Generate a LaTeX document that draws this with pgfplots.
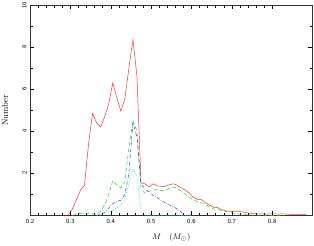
\documentclass[border=0pt]{standalone}
\usepackage{pgfplots}
\pgfplotsset{compat=1.18}
\definecolor{cred}{RGB}{255,50,50}
\definecolor{cgreen}{RGB}{30,220,30}
\definecolor{cblue}{RGB}{50,50,230}
\definecolor{ccyan}{RGB}{0,225,225}
\begin{document}
\begin{tikzpicture}
\begin{axis}[
  name=ax,
  scale only axis,
  width=282pt, height=210pt,
  xmin=0.2, xmax=0.9, ymin=0, ymax=10,
  xtick={0.2,0.3,0.4,0.5,0.6,0.7,0.8},
  xticklabels={0.2,0.3,0.4,0.5,0.6,0.7,0.8},
  minor x tick num=4,
  ytick={2,4,6,8,10},
  yticklabels={2,4,6,8,10},
  minor ytick={1,3,5,7,9},
  tick align=inside,
  xtick pos=both, ytick pos=both,
  major tick length=4pt, minor tick length=2.5pt,
  every tick/.style={black, line width=0.4pt},
  axis line style={line width=0.5pt, black!80},
  tick label style={font=\sffamily\fontsize{6.2}{7}\selectfont},
  xticklabel style={yshift=-0.5pt},
  yticklabel style={rotate=90, anchor=south},
  xlabel={$M\quad(M_{\odot})$},
  ylabel={Number},
  xlabel style={at={(axis description cs:0.5,-0.105)}, anchor=center, font=\fontsize{8}{9}\selectfont},
  ylabel style={at={(axis description cs:-0.089,0.5)}, anchor=center, rotate=0, font=\fontsize{8.5}{10}\selectfont},
]
\addplot[cred, line width=0.5pt] coordinates {
(0.295,0) (0.305,0.3) (0.315,0.75) (0.325,1.2) (0.335,1.43) (0.345,3.4) (0.355,4.85)
(0.365,4.4) (0.375,4.2) (0.385,4.7) (0.395,5.3) (0.405,6.3) (0.415,5.6) (0.425,4.95)
(0.435,5.55) (0.445,7.0) (0.455,8.37) (0.465,6.6) (0.475,1.55) (0.485,1.5) (0.495,1.35)
(0.505,1.5) (0.515,1.4) (0.525,1.38) (0.535,1.38) (0.545,1.45) (0.555,1.5) (0.565,1.43)
(0.575,1.3) (0.585,1.2) (0.595,1.05) (0.605,0.85) (0.615,0.76) (0.625,0.75) (0.635,0.6)
(0.645,0.48) (0.655,0.38) (0.665,0.37) (0.675,0.27) (0.685,0.22) (0.695,0.19) (0.705,0.19)
(0.715,0.19) (0.725,0.17) (0.735,0.13) (0.745,0.1) (0.755,0.08) (0.765,0.07) (0.775,0.07)
(0.785,0.06) (0.795,0.07) (0.805,0.07) (0.815,0.06) (0.825,0.07) (0.835,0.06) (0.845,0.05)
(0.855,0.05) (0.865,0.05) (0.875,0.05) (0.885,0.04)
};
\addplot[cgreen, line width=0.5pt, dash pattern=on 4pt off 2.5pt] coordinates {
(0.305,0) (0.315,0.05) (0.325,0.1) (0.335,0.08) (0.345,0.1) (0.355,0.08) (0.365,0.05)
(0.375,0.2) (0.385,0.5) (0.395,1.0) (0.405,1.65) (0.415,1.45) (0.425,1.3) (0.435,1.6)
(0.445,3.2) (0.455,4.52) (0.465,4.0) (0.475,1.25) (0.485,1.05) (0.495,1.15) (0.505,1.2)
(0.515,1.25) (0.525,1.18) (0.535,1.2) (0.545,1.28) (0.555,1.35) (0.565,1.27) (0.575,1.15)
(0.585,1.0) (0.595,0.85) (0.605,0.72) (0.615,0.65) (0.625,0.6) (0.635,0.52) (0.645,0.4)
(0.655,0.3) (0.665,0.28) (0.675,0.23) (0.685,0.18) (0.695,0.14) (0.705,0.1) (0.715,0.07)
(0.725,0.05) (0.735,0.03) (0.745,0.02) (0.755,0.01) (0.765,0.01) (0.795,0.0) (0.83,0.0)
};
\addplot[cblue, line width=0.5pt, dash pattern=on 3pt off 1.5pt on 0.6pt off 1.5pt] coordinates {
(0.365,0) (0.375,0.05) (0.385,0.15) (0.395,0.35) (0.405,0.56) (0.415,0.65) (0.425,0.72)
(0.435,1.0) (0.445,2.0) (0.455,4.4) (0.465,3.7) (0.475,1.5) (0.485,1.25) (0.495,1.1)
(0.505,0.95) (0.515,0.85) (0.525,0.7) (0.535,0.6) (0.545,0.5) (0.555,0.4) (0.565,0.3)
(0.575,0.15) (0.585,0.0)
};
\addplot[ccyan, line width=0.5pt, dash pattern=on 0.8pt off 1.2pt] coordinates {
(0.365,0) (0.375,0.02) (0.385,0.08) (0.395,0.15) (0.405,0.25) (0.415,0.35) (0.425,0.5)
(0.435,0.8) (0.445,1.5) (0.455,2.22) (0.465,1.85) (0.475,0.3) (0.485,0) (0.60,0)
};
\end{axis}
\pgfresetboundingbox
\path ([xshift=-30pt,yshift=-30pt]ax.south west) rectangle ([xshift=1.5pt,yshift=5pt]ax.north east);
\end{tikzpicture}
\end{document}
